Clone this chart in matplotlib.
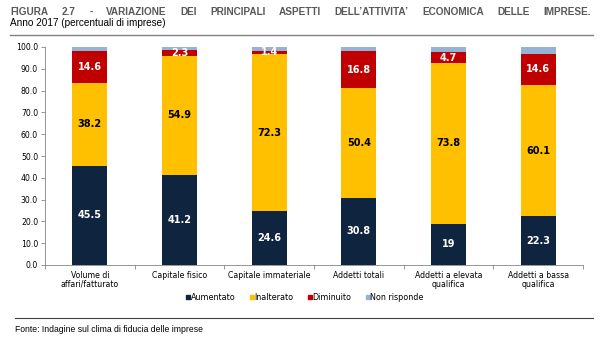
import matplotlib
matplotlib.use("Agg")
import matplotlib.pyplot as plt
from matplotlib.lines import Line2D
import numpy as np

categories = ["Volume di\naffari/fatturato", "Capitale fisico", "Capitale immateriale",
              "Addetti totali", "Addetti a elevata\nqualifica", "Addetti a bassa\nqualifica"]
aumentato = [45.5, 41.2, 24.6, 30.8, 19.0, 22.3]
inalterato = [38.2, 54.9, 72.3, 50.4, 73.8, 60.1]
diminuito = [14.6, 2.3, 1.4, 16.8, 4.7, 14.6]
non_risponde = [1.7, 1.6, 1.7, 2.0, 2.5, 3.0]

series_names = ["Aumentato", "Inalterato", "Diminuito", "Non risponde"]
colors = ["#0F243E", "#FFC000", "#C00000", "#95B3D7"]
label_colors = ["white", "black", "white", None]

title_words = ["FIGURA", "2.7", "-", "VARIAZIONE", "DEI", "PRINCIPALI", "ASPETTI",
               "DELL\u2019ATTIVITA\u2019", "ECONOMICA", "DELLE", "IMPRESE."]
subtitle = "Anno 2017 (percentuali di imprese)"
source = "Fonte: Indagine sul clima di fiducia delle imprese"

narrow = ["Liberation Sans Narrow", "Liberation Sans", "DejaVu Sans"]

W, H = 600, 343
fig = plt.figure(figsize=(W / 100, H / 100), dpi=100)
ax = fig.add_axes([45 / W, 1 - 265 / H, (583 - 45) / W, (265 - 47) / H])

x = np.arange(len(categories))
bottom = np.zeros(len(categories))
for vals, col, lc in zip([aumentato, inalterato, diminuito, non_risponde], colors, label_colors):
    vals = np.array(vals)
    ax.bar(x, vals, width=0.39, bottom=bottom, color=col, linewidth=0)
    if lc is not None:
        for xi, b, v in zip(x, bottom, vals):
            ax.text(xi, b + v / 2, f"{v:g}", ha="center", va="center", color=lc,
                    fontsize=7, fontweight="bold", family="DejaVu Sans")
    bottom += vals

ax.set_xlim(-0.5, len(categories) - 0.5)
ax.set_ylim(0, 100)
ax.set_yticks(np.arange(0, 101, 10))
ax.set_yticklabels([f"{v:.1f}" for v in np.arange(0, 101, 10)])
ax.set_xticks(x)
ax.set_xticklabels(categories)
ax.set_xticks(np.arange(-0.5, len(categories), 1), minor=True)
ax.tick_params(axis="x", which="major", length=0, pad=4, labelsize=5.6, labelcolor="#000000")
ax.tick_params(axis="x", which="minor", length=3, color="#868686", width=0.6)
ax.tick_params(axis="y", length=3, color="#868686", width=0.6, labelsize=5.6, pad=2)
for lab in ax.get_xticklabels():
    lab.set_linespacing(1.0)
for s in ["top", "right"]:
    ax.spines[s].set_visible(False)
for s in ["left", "bottom"]:
    ax.spines[s].set_color("#868686")
    ax.spines[s].set_linewidth(0.6)

handles = [Line2D([], [], marker="s", linestyle="none", color=c, markersize=3) for c in colors]
fig.legend(handles, series_names, loc="center", bbox_to_anchor=(305 / W, 1 - 297 / H),
           ncol=4, frameon=False, fontsize=5.8, handlelength=0.4, handletextpad=0.15,
           columnspacing=1.8, borderaxespad=0)

# justified heading: spread the words evenly between the two margins
fig.canvas.draw()
renderer = fig.canvas.get_renderer()
left, right = 10, 591
texts = [fig.text(0, 1 - 12 / H, w, fontsize=7.2, fontweight="bold", color="#595959",
                  family=narrow, va="center") for w in title_words]
widths = [t.get_window_extent(renderer).width for t in texts]
gap = (right - left - sum(widths)) / (len(texts) - 1)
pos = left
for t, w in zip(texts, widths):
    t.set_x(pos / W)
    pos += w + gap

fig.text(10 / W, 1 - 22.5 / H, subtitle, fontsize=7.2, family=narrow, va="center", color="#000000")
fig.add_artist(Line2D([10 / W, 593 / W], [1 - 35 / H, 1 - 35 / H], color="#808080", lw=1.0))
fig.add_artist(Line2D([15 / W, 593 / W], [1 - 318 / H, 1 - 318 / H], color="#404040", lw=0.8))
fig.text(15 / W, 1 - 330 / H, source, fontsize=6.2, family=narrow, va="center", color="#000000")

fig.savefig("out.png", dpi=100)
